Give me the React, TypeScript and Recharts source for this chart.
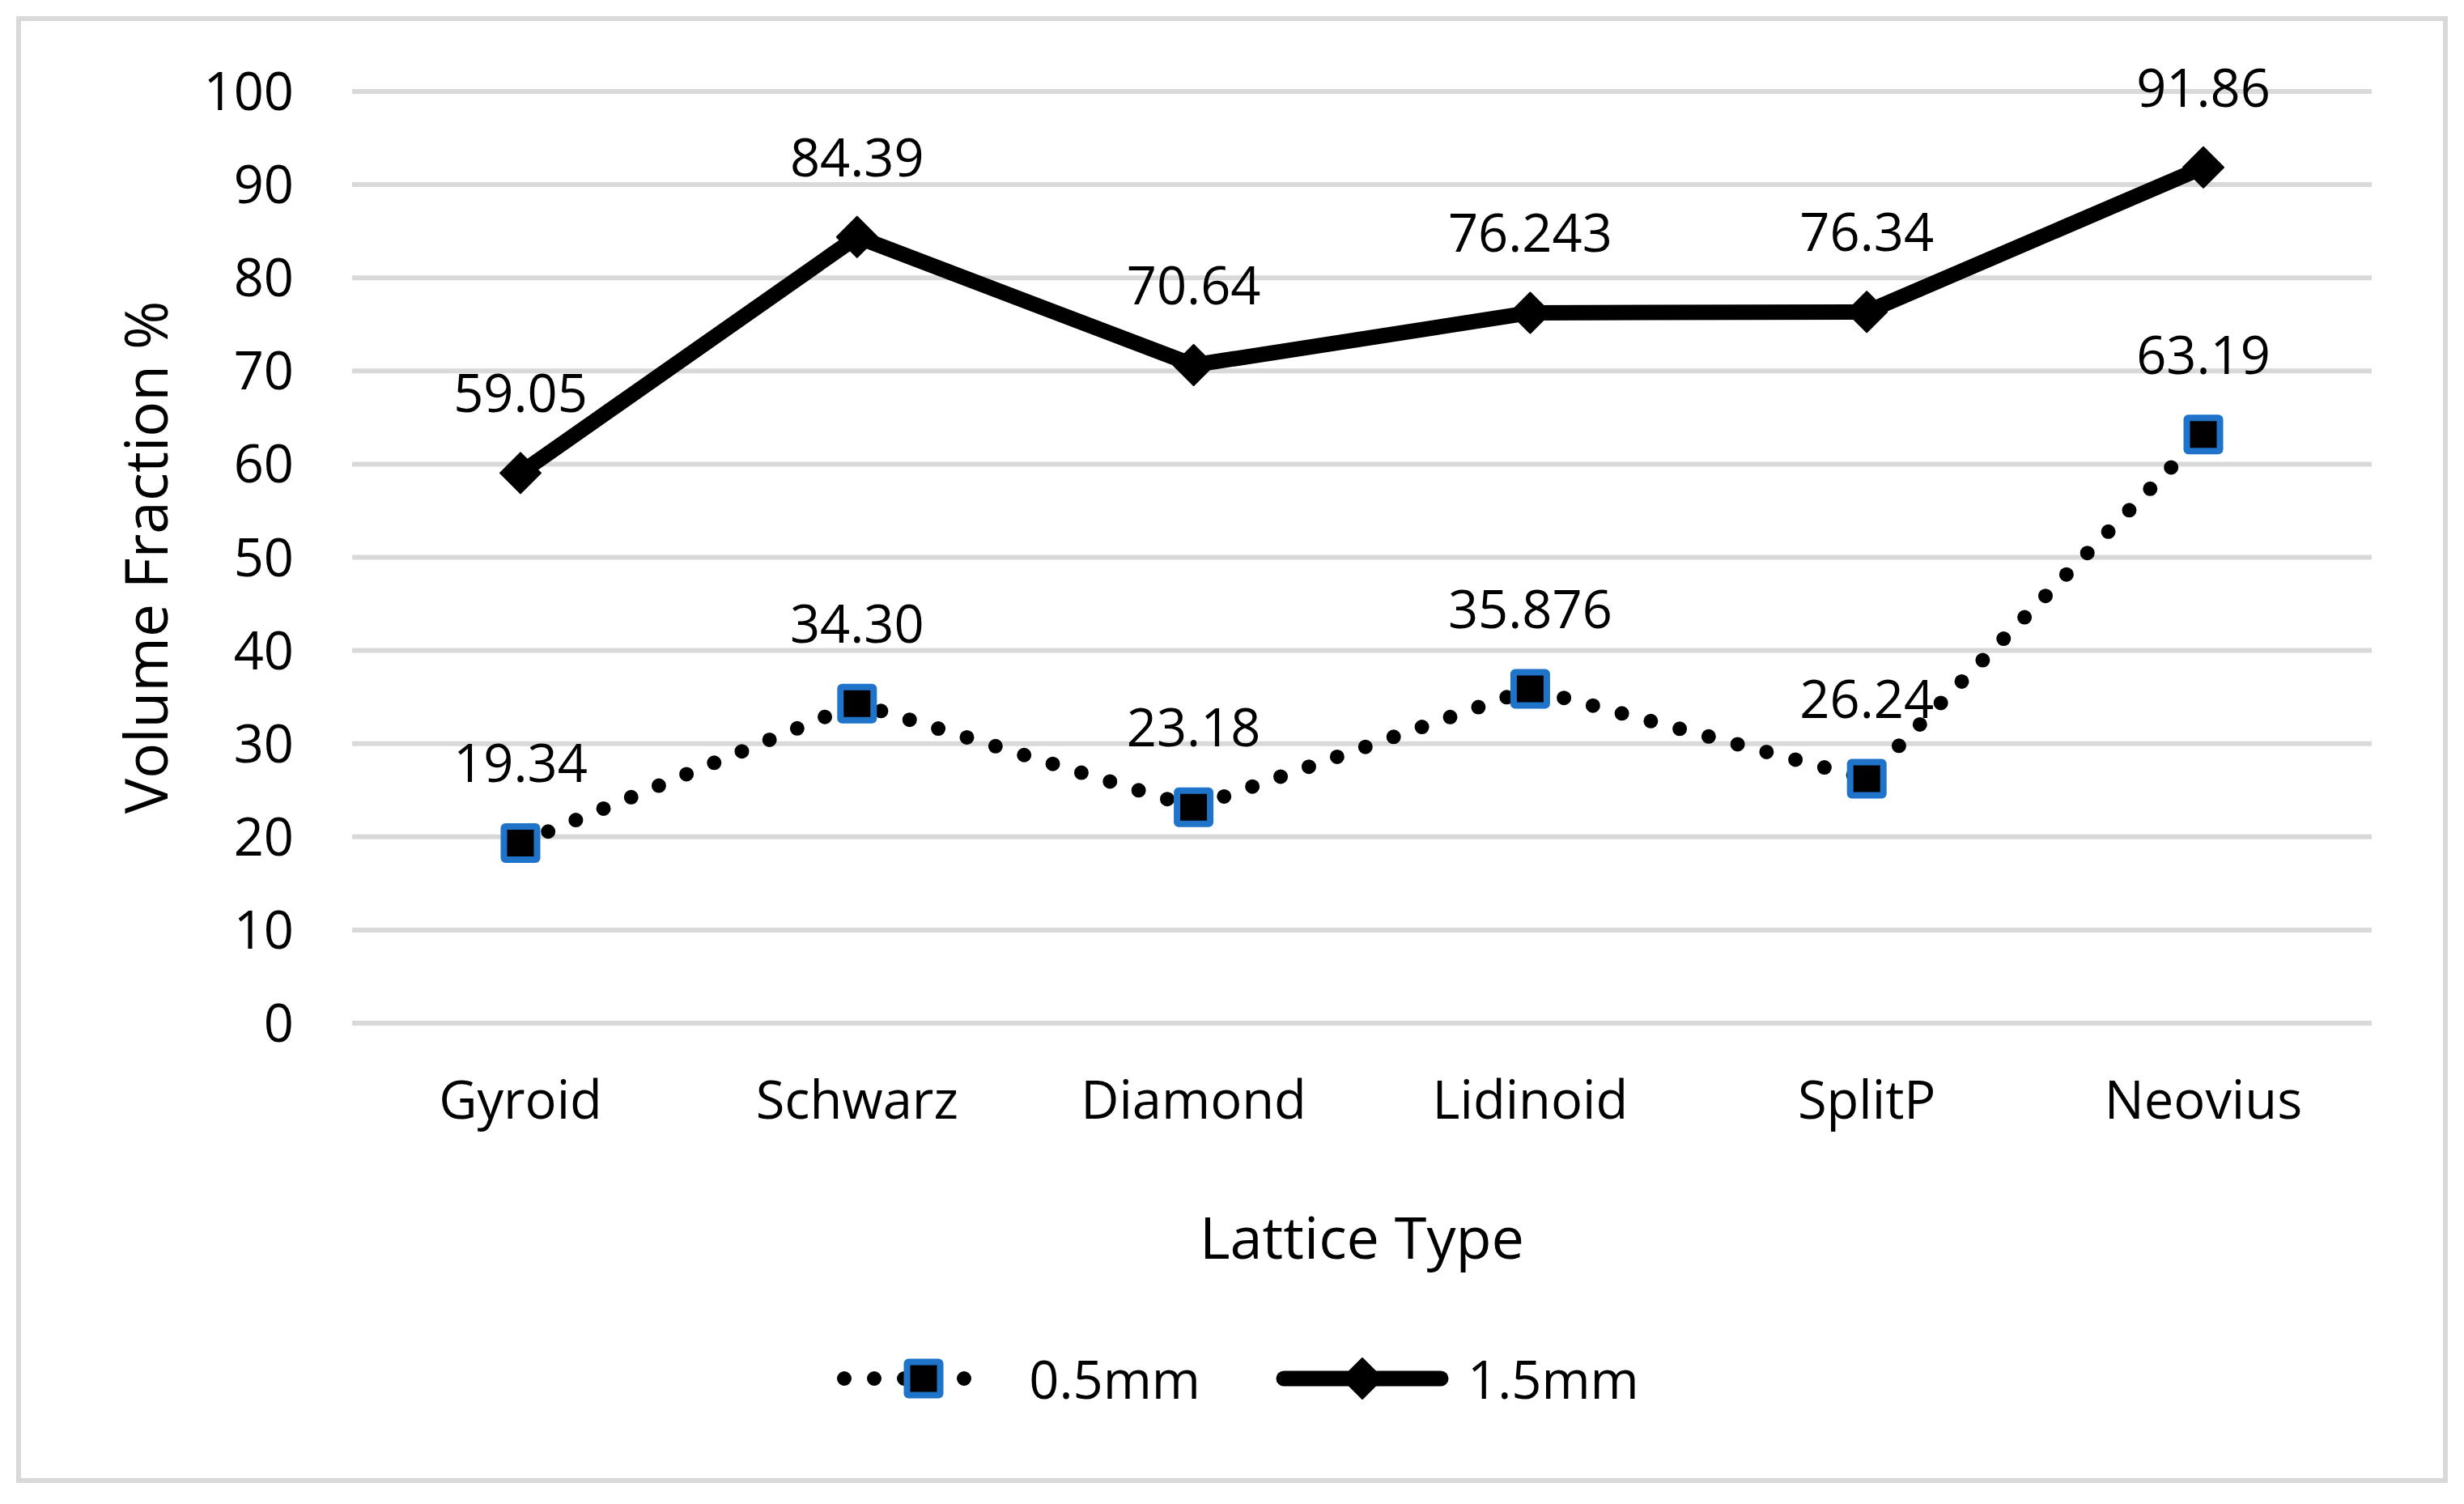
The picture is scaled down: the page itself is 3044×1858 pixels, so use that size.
import { LineChart, Line, XAxis, YAxis, CartesianGrid, Legend, LabelList } from 'recharts'

const lattices = ['Gyroid', 'Schwarz', 'Diamond', 'Lidinoid', 'SplitP', 'Neovius']
// labels are kept as printed on the chart (trailing zeros included)
const thinText = ['19.34', '34.30', '23.18', '35.876', '26.24', '63.19']
const thickText = ['59.05', '84.39', '70.64', '76.243', '76.34', '91.86']
const yTicks = [0, 10, 20, 30, 40, 50, 60, 70, 80, 90, 100]
const seriesNames = ['0.5mm', '1.5mm']

const data = lattices.map((name, i) => ({
  name,
  thin: Number(thinText[i]),
  thick: Number(thickText[i]),
  thinLabel: thinText[i],
  thickLabel: thickText[i],
}))

const BLUE = '#1F74C9'
const GRID = '#D9D9D9'
const FONT = "'Open Sans', sans-serif"

function SquareDot(p: any) {
  const { cx, cy, index } = p
  if (cx == null || cy == null) return null
  return <rect key={`sq-${index}`} x={cx - 20.5} y={cy - 20.5} width={41} height={41} rx={2} fill="#000" stroke={BLUE} strokeWidth={8} />
}

function DiamondDot(p: any) {
  const { cx, cy, index } = p
  if (cx == null || cy == null) return null
  const r = 25
  return <polygon key={`dm-${index}`} points={`${cx},${cy - r} ${cx + r},${cy} ${cx},${cy + r} ${cx - r},${cy}`} fill="#000" stroke="#000" strokeWidth={2} strokeLinejoin="round" />
}

function YTitle(props: any) {
  const vb = props.viewBox || {}
  const x = 178
  const y = vb.y + vb.height / 2
  return (
    <text x={x} y={y} transform={`rotate(-90, ${x}, ${y})`} textAnchor="middle" dominantBaseline="central" fontSize={73} fill="#000" fontFamily={FONT}>
      Volume Fraction %
    </text>
  )
}

function LegendBox() {
  const text = { fontSize: 65, color: '#000', fontFamily: FONT, lineHeight: '80px' }
  return (
    <div style={{ display: 'flex', justifyContent: 'center', alignItems: 'center', height: 80, paddingLeft: 14 }}>
      <svg width={203} height={80}>
        <line x1={10} y1={40} x2={195} y2={40} stroke="#000" strokeWidth={18} strokeDasharray="0 37" strokeLinecap="round" />
        <SquareDot cx={108} cy={40} index={0} />
      </svg>
      <span style={{ ...text, marginLeft: 35 }}>{seriesNames[0]}</span>
      <svg width={214} height={80} style={{ marginLeft: 93 }}>
        <line x1={10} y1={40} x2={204} y2={40} stroke="#000" strokeWidth={19} strokeLinecap="round" />
        <DiamondDot cx={107} cy={40} index={0} />
      </svg>
      <span style={{ ...text, marginLeft: 23 }}>{seriesNames[1]}</span>
    </div>
  )
}

export default function App() {
  return (
    <div style={{ position: 'absolute', left: 0, top: 0, width: 3044, height: 1858, background: '#fff', fontFamily: FONT }}>
      <div style={{ position: 'absolute', left: 20, top: 20, width: 3004, height: 1812, boxSizing: 'border-box', border: `6px solid ${GRID}` }} />
      <LineChart width={3044} height={1858} data={data} margin={{ top: 113, right: 114, left: 100, bottom: 0 }}>
        <CartesianGrid vertical={false} stroke={GRID} strokeWidth={6} />
        <XAxis
          dataKey="name"
          height={594}
          axisLine={false}
          tickLine={false}
          tickSize={0}
          tickMargin={72}
          padding={{ left: 208, right: 208 }}
          tick={{ fontSize: 65, fill: '#000' }}
          label={{ value: 'Lattice Type', position: 'insideTop', offset: 240, fontSize: 72, fill: '#000' }}
        />
        <YAxis
          width={335}
          domain={[0, 100]}
          ticks={yTicks}
          axisLine={false}
          tickLine={false}
          tickSize={0}
          tickMargin={72}
          tick={{ fontSize: 65, fill: '#000' }}
          label={<YTitle />}
        />
        <Legend layout="horizontal" verticalAlign="middle" align="center" wrapperStyle={{ top: 1663, left: 0, width: 3044 }} content={() => <LegendBox />} />
        <Line
          dataKey="thin"
          name={seriesNames[0]}
          type="linear"
          stroke="#000"
          strokeWidth={18}
          strokeDasharray="0 37"
          strokeLinecap="round"
          dot={SquareDot}
          activeDot={false}
          isAnimationActive={false}
        >
          <LabelList dataKey="thinLabel" position="top" offset={75} fontSize={65} fill="#000" />
        </Line>
        <Line
          dataKey="thick"
          name={seriesNames[1]}
          type="linear"
          stroke="#000"
          strokeWidth={19}
          strokeLinejoin="round"
          dot={DiamondDot}
          activeDot={false}
          isAnimationActive={false}
        >
          <LabelList dataKey="thickLabel" position="top" offset={75} fontSize={65} fill="#000" />
        </Line>
      </LineChart>
    </div>
  )
}
